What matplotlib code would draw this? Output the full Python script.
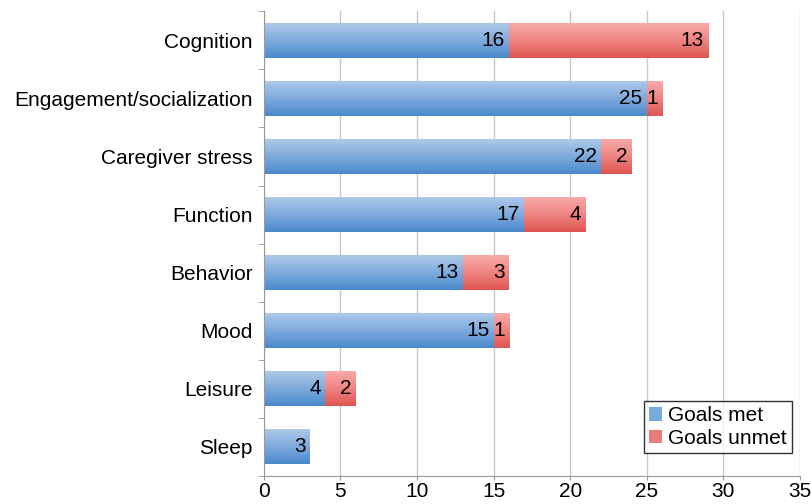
import numpy as np
import matplotlib.pyplot as plt
from matplotlib.colors import LinearSegmentedColormap
from matplotlib.patches import Patch

# Datos
categorias = ['Cognition', 'Engagement/socialization', 'Caregiver stress', 'Function',
              'Behavior', 'Mood', 'Leisure', 'Sleep']
metas_cumplidas = [16, 25, 22, 17, 13, 15, 4, 3]
metas_no_cumplidas = [13, 1, 2, 4, 3, 1, 2, 0]
ticks_x = [0, 5, 10, 15, 20, 25, 30, 35]

plt.rcParams['font.family'] = ['Liberation Sans', 'DejaVu Sans']
tam = 15

fig = plt.figure(figsize=(8.12, 5.04), dpi=100)
ax = fig.add_axes([0.325, 0.0556, 0.66, 0.922])

azul = LinearSegmentedColormap.from_list('azul', ['#adc9ea', '#7eaadc', '#4a8acb'])
rojo = LinearSegmentedColormap.from_list('rojo', ['#f8aaa8', '#ee8482', '#df5551'])
gradiente = np.linspace(0, 1, 64).reshape(-1, 1)

y = np.arange(len(categorias))
alto = 0.6

def barra_gradiente(x0, ancho, yc, cmap):
    ax.imshow(gradiente, cmap=cmap, aspect='auto', zorder=2,
              extent=(x0, x0 + ancho, yc + alto / 2, yc - alto / 2), origin='upper')

for i in range(len(categorias)):
    barra_gradiente(0, metas_cumplidas[i], y[i], azul)
    ax.annotate(str(metas_cumplidas[i]), (metas_cumplidas[i], y[i]), xytext=(-3, 0),
                textcoords='offset points', ha='right', va='center', fontsize=tam, zorder=3)
    if metas_no_cumplidas[i] > 0:
        barra_gradiente(metas_cumplidas[i], metas_no_cumplidas[i], y[i], rojo)
        fin = metas_cumplidas[i] + metas_no_cumplidas[i]
        ax.annotate(str(metas_no_cumplidas[i]), (fin, y[i]), xytext=(-3, 0),
                    textcoords='offset points', ha='right', va='center', fontsize=tam, zorder=3)

ax.set_xlim(0, 35)
ax.set_ylim(len(categorias) - 0.5, -0.5)
ax.set_xticks(ticks_x)
ax.set_yticks(y)
ax.set_yticklabels(categorias, fontsize=tam)
ax.set_yticks(np.arange(-0.5, len(categorias)), minor=True)
ax.tick_params(axis='y', which='major', length=0, pad=8)
ax.tick_params(axis='y', which='minor', length=4, color='#999999')
ax.tick_params(axis='x', labelsize=tam, length=3, pad=1, color='#999999')

ax.grid(True, axis='x', color='#c8c8c8', linewidth=1, zorder=0)
ax.set_axisbelow(True)
for lado in ['top', 'right']:
    ax.spines[lado].set_visible(False)
for lado in ['left', 'bottom']:
    ax.spines[lado].set_color('#999999')

handles = [Patch(facecolor='#7aa9db', label='Goals met'),
           Patch(facecolor='#ea7d7a', label='Goals unmet')]
leg = ax.legend(handles=handles, loc='lower right', bbox_to_anchor=(0.985, 0.05),
                fontsize=tam, frameon=True, fancybox=False, edgecolor='black',
                handlelength=0.6, handleheight=0.6, handletextpad=0.3,
                borderpad=0.25, labelspacing=0.15, borderaxespad=0)
leg.get_frame().set_linewidth(1)

fig.savefig('out.png', dpi=100)
